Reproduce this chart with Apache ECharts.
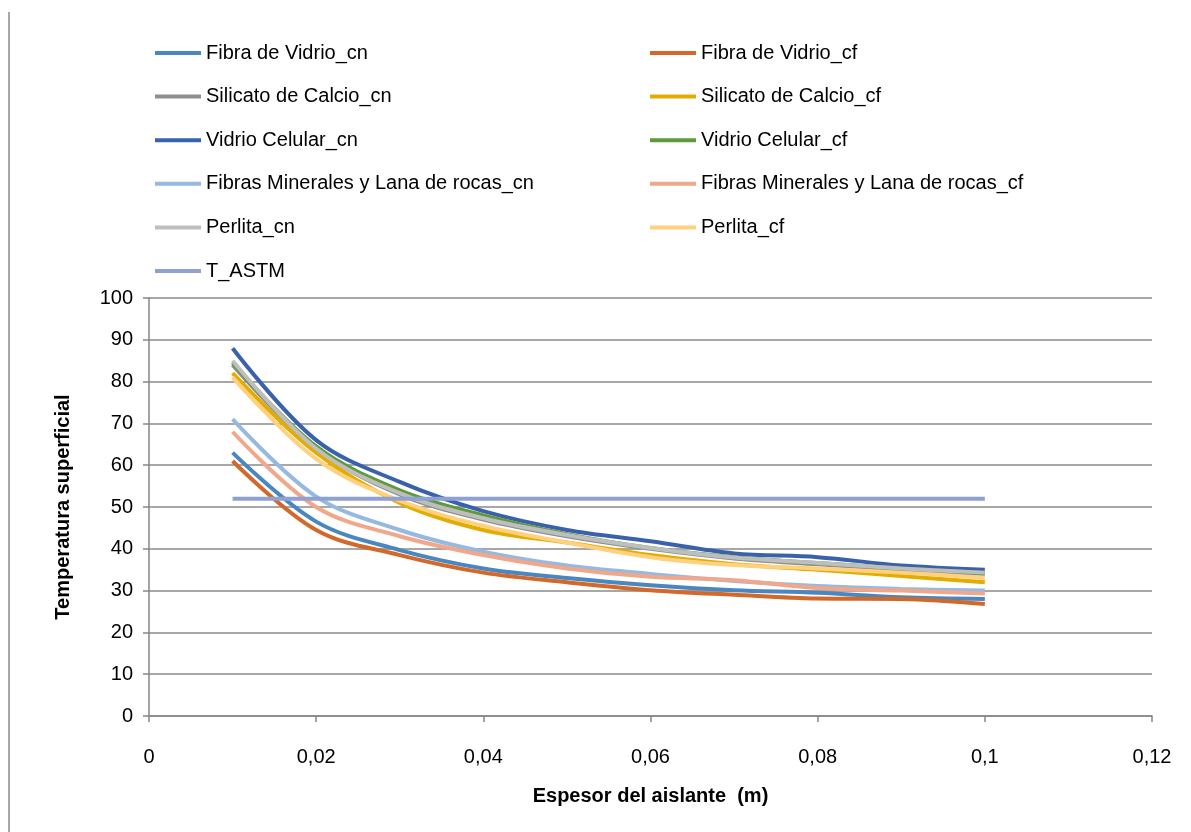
<!DOCTYPE html>
<html>
<head>
<meta charset="utf-8">
<script src="https://cdn.jsdelivr.net/npm/echarts@6/dist/echarts.min.js"></script>
<style>html,body{margin:0;padding:0;background:#fff;}#chart{width:1191px;height:832px;}</style>
</head>
<body>
<div id="chart"></div>
<script>
const espesor = [0.01, 0.02, 0.03, 0.04, 0.05, 0.06, 0.07, 0.08, 0.09, 0.1];
const fibraVidrio_cn = [63, 46.5, 39.7, 35.3, 33, 31.3, 30.1, 29.5, 28.4, 28];
const fibraVidrio_cf = [61, 44.5, 38.5, 34.3, 32, 30.1, 29, 28.1, 28, 26.8];
const silicato_cn = [84, 64, 53, 47, 43, 40, 37.7, 36.3, 35, 34];
const silicato_cf = [82, 63, 51, 44.5, 41.5, 38.5, 36.3, 35, 33.5, 32];
const vidrioCel_cn = [88, 66, 56, 49, 44.5, 41.8, 38.9, 38, 36, 35];
const vidrioCel_cf = [84.5, 64.5, 54, 48, 43.5, 40.2, 38, 36.6, 35.3, 34.2];
const fibrasMin_cn = [71, 52.5, 44.5, 39.3, 36, 34, 32.3, 31.1, 30.4, 30];
const fibrasMin_cf = [68, 50, 43, 38.5, 35.3, 33.3, 32.5, 30.6, 30, 29.3];
const perlita_cn = [85, 64, 53.3, 47.3, 43.3, 40.2, 37.9, 36.6, 35.3, 34.3];
const perlita_cf = [81, 61.5, 51.5, 45.5, 41.5, 38, 36.1, 35.3, 34.3, 33.1];
const t_astm = [52, 52, 52, 52, 52, 52, 52, 52, 52, 52];

const seriesNames = [
  'Fibra de Vidrio_cn', 'Fibra de Vidrio_cf',
  'Silicato de Calcio_cn', 'Silicato de Calcio_cf',
  'Vidrio Celular_cn', 'Vidrio Celular_cf',
  'Fibras Minerales y Lana de rocas_cn', 'Fibras Minerales y Lana de rocas_cf',
  'Perlita_cn', 'Perlita_cf', 'T_ASTM'
];
const seriesValues = [
  fibraVidrio_cn, fibraVidrio_cf, silicato_cn, silicato_cf, vidrioCel_cn, vidrioCel_cf,
  fibrasMin_cn, fibrasMin_cf, perlita_cn, perlita_cf, t_astm
];
const colors = ['#4A86C0', '#D2692A', '#8E8E8E', '#E3AC00', '#3A62AB', '#5E9A3B',
  '#96B9E1', '#F1A78A', '#BEBEBE', '#FFD17F', '#8EA1D3'];

const FONT = 'Liberation Sans';
const chart = echarts.init(document.getElementById('chart'));
const fmt = v => String(+v.toFixed(2)).replace('.', ',');

const series = seriesNames.map((n, i) => ({
  name: n,
  type: 'line',
  smooth: 0.35,
  showSymbol: false,
  symbol: 'none',
  lineStyle: { width: 4, color: colors[i] },
  itemStyle: { color: colors[i] },
  data: espesor.map((x, j) => [x, seriesValues[i][j]])
}));

const legendBase = {
  orient: 'vertical',
  top: 37,
  icon: 'rect',
  itemWidth: 46,
  itemHeight: 4,
  itemGap: 21.6,
  textStyle: { fontFamily: FONT, fontSize: 20, color: '#000', lineHeight: 22 }
};

chart.setOption({
  animation: false,
  color: colors,
  textStyle: { fontFamily: FONT },
  graphic: [{
    type: 'line',
    shape: { x1: 9, y1: 12, x2: 9, y2: 832 },
    style: { stroke: '#8a8a8a', lineWidth: 1.5 }
  }],
  legend: [
    Object.assign({}, legendBase, {
      left: 150,
      data: seriesNames.filter((n, i) => i % 2 === 0)
    }),
    Object.assign({}, legendBase, {
      left: 645,
      data: seriesNames.filter((n, i) => i % 2 === 1)
    })
  ],
  grid: { left: 149, right: 39, top: 298, bottom: 116, containLabel: false },
  xAxis: {
    type: 'value',
    min: 0, max: 0.12, interval: 0.02,
    name: 'Espesor del aislante  (m)',
    nameLocation: 'middle',
    nameGap: 70,
    nameTextStyle: { fontFamily: FONT, fontSize: 20, fontWeight: 'bold', color: '#000' },
    axisLine: { lineStyle: { color: '#868686', width: 1.5 } },
    axisTick: { show: true, inside: false, length: 6, lineStyle: { color: '#868686', width: 1.5 } },
    axisLabel: { formatter: fmt, fontFamily: FONT, fontSize: 20, color: '#000', margin: 31 },
    splitLine: { show: false }
  },
  yAxis: {
    type: 'value',
    min: 0, max: 100, interval: 10,
    name: 'Temperatura superficial',
    nameLocation: 'middle',
    nameGap: 76,
    nameTextStyle: { fontFamily: FONT, fontSize: 20, fontWeight: 'bold', color: '#000' },
    axisLine: { show: true, lineStyle: { color: '#868686', width: 1.5 } },
    axisTick: { show: true, inside: false, length: 6, lineStyle: { color: '#868686', width: 1.5 } },
    axisLabel: { fontFamily: FONT, fontSize: 20, color: '#000', margin: 16 },
    splitLine: { show: true, lineStyle: { color: '#8a8a8a', width: 1.5 } }
  },
  series: series
});
</script>
</body>
</html>
